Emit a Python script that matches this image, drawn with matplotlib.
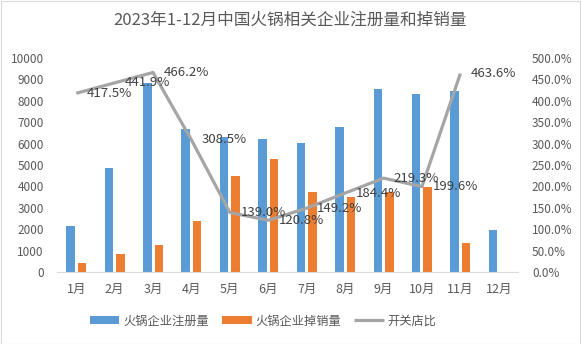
import matplotlib
matplotlib.use("Agg")
import matplotlib.pyplot as plt
import numpy as np
from matplotlib.patches import Rectangle
from matplotlib.ticker import FuncFormatter, MultipleLocator

plt.rcParams['font.family'] = ['Noto Sans CJK SC', 'DejaVu Sans']

months = ["1月", "2月", "3月", "4月", "5月", "6月", "7月", "8月", "9月", "10月", "11月", "12月"]
registrations = [2150, 4860, 8850, 6680, 6310, 6210, 6010, 6780, 8540, 8320, 8470, 1980]
cancellations = [420, 840, 1280, 2380, 4490, 5280, 3720, 3520, 3750, 3960, 1355, np.nan]
ratio_pct = [417.5, 441.9, 466.2, 308.5, 139.0, 120.8, 149.2, 184.4, 219.3, 199.6, 463.6, np.nan]

title = "2023年1-12月中国火锅相关企业注册量和掉销量"
legend_labels = ["火锅企业注册量", "火锅企业掉销量", "开关店比"]

W, H = 581, 344
fig = plt.figure(figsize=(W / 100, H / 100), dpi=100)
fig.patch.set_facecolor("white")
fig.add_artist(Rectangle((0.5 / W, 0.5 / H), 1 - 1.5 / W, 1 - 1.5 / H, transform=fig.transFigure,
                         fill=False, edgecolor="#D9D9D9", linewidth=0.8))

left, right, top, bottom = 57, 518, 58, 272
ax = fig.add_axes([left / W, 1 - bottom / H, (right - left) / W, (bottom - top) / H])
ax2 = ax.twinx()

x = np.arange(len(months))
bw = 0.22
ax.bar(x - 0.15, registrations, width=bw, color="#5B9BD5", label=legend_labels[0], zorder=2)
ax.bar(x + 0.15, cancellations, width=bw, color="#ED7D31", label=legend_labels[1], zorder=2)

ratio = np.array(ratio_pct) / 100.0
ax2.plot(x, ratio, color="#A5A5A5", linewidth=2.3, label=legend_labels[2], solid_capstyle="butt", zorder=3)
for xi, r, rp in zip(x, ratio, ratio_pct):
    if np.isnan(r):
        continue
    ax2.annotate(f"{rp:.1f}%", (xi, r), xytext=(7.5, 0), textcoords="offset points",
                 ha="left", va="center", fontsize=9.5, color="#404040")

ax.set_xlim(-0.5, len(months) - 0.5)
ax.set_ylim(0, 10000)
ax2.set_ylim(0, 5)
ax.yaxis.set_major_locator(MultipleLocator(1000))
ax2.yaxis.set_major_locator(MultipleLocator(0.5))
ax2.yaxis.set_major_formatter(FuncFormatter(lambda v, p: f"{v * 100:.1f}%"))
ax.set_xticks(x)
ax.set_xticklabels(months)

for a in (ax, ax2):
    for s in a.spines.values():
        s.set_visible(False)
    a.tick_params(length=0, labelsize=8.5, labelcolor="#595959")
    a.set_facecolor("none")
ax.spines["bottom"].set_visible(True)
ax.spines["bottom"].set_color("#D9D9D9")
ax.tick_params(axis="y", pad=9.5)
ax2.tick_params(axis="y", pad=10)
ax.tick_params(axis="x", pad=8, labelsize=9)

fig.text(0.5, 1 - 20 / H, title, ha="center", va="center", fontsize=12, color="#595959")

h1, l1 = ax.get_legend_handles_labels()
h2, l2 = ax2.get_legend_handles_labels()
fig.legend(h1 + h2, l1 + l2, loc="center", bbox_to_anchor=(0.453, 1 - 321 / H), ncol=3,
           frameon=False, fontsize=8.8, labelcolor="#595959", handlelength=2.4, handleheight=0.6,
           columnspacing=1.1, handletextpad=0.3)

fig.savefig("out.png", dpi=100, facecolor="white")
